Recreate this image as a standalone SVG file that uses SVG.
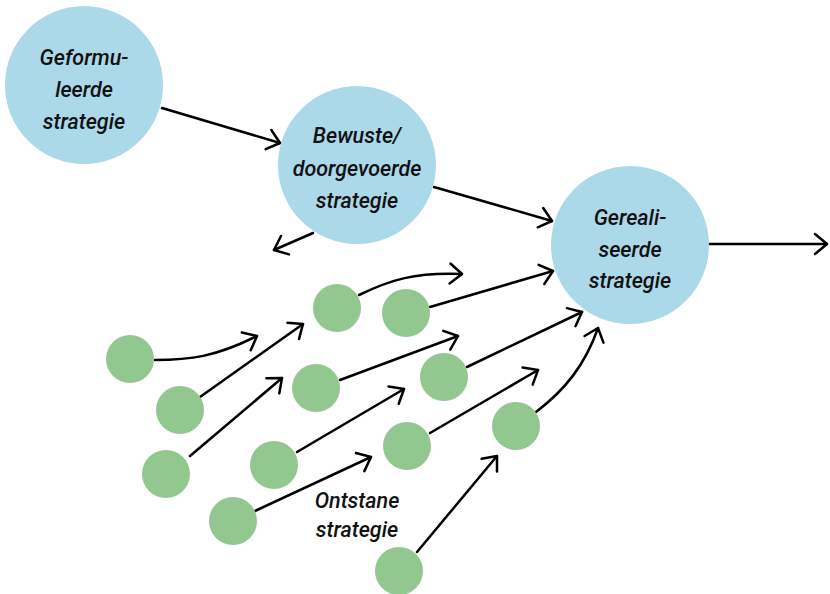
<svg xmlns="http://www.w3.org/2000/svg" width="830" height="594" viewBox="0 0 830 594">
  <style>
    .big { fill: #abd9ea; }
    .small { fill: #92c78f; }
    .lbl { font-family: Roboto, "Open Sans", sans-serif; font-style: italic; font-weight: 500; font-size: 21.5px; fill: #111; text-anchor: middle; }
    .link { fill: none; stroke: #000; stroke-width: 2.5; stroke-linecap: round; marker-end: url(#head); }
  </style>
  <defs>
    <marker id="head" markerUnits="userSpaceOnUse" viewBox="-15 -13 18 26" markerWidth="18" markerHeight="26" refX="0" refY="0" orient="auto">
      <path d="M-12,-10 L0,0 L-12,10" fill="none" stroke="#000" stroke-width="2.5" stroke-linecap="round" stroke-linejoin="round"/>
    </marker>
  </defs>

  <rect width="830" height="594" fill="#fff"/>

  <g id="connectors">
    <!-- main chain -->
    <path class="link" d="M162,108 L280,143"/>
    <path class="link" d="M434,187 L552,221"/>
    <path class="link" d="M313,233 L274,250"/>
    <path class="link" d="M709,244 L827,244"/>
    <!-- emergent strands -->
    <path class="link" d="M155,360 C190,360 215,357 257,336"/>
    <path class="link" d="M200,397 L303,324"/>
    <path class="link" d="M190,456 L282,378"/>
    <path class="link" d="M359,295 C390,280 415,272 462,274"/>
    <path class="link" d="M430,307 L553,271"/>
    <path class="link" d="M340,380 L458,336"/>
    <path class="link" d="M467,367 L582,312"/>
    <path class="link" d="M297,452 L404,389"/>
    <path class="link" d="M430,433 L538,370"/>
    <path class="link" d="M536,412 C565,390 585,365 598,328"/>
    <path class="link" d="M255,511 L371,457"/>
    <path class="link" d="M417,552 L497,456"/>
  </g>

  <g id="geformuleerde">
    <circle class="big" cx="84" cy="85" r="79"/>
    <text class="lbl" x="84" y="65">Geformu-</text>
    <text class="lbl" x="84" y="97">leerde</text>
    <text class="lbl" x="84" y="129">strategie</text>
  </g>

  <g id="bewuste">
    <circle class="big" cx="357" cy="165" r="79"/>
    <text class="lbl" x="357" y="143">Bewuste/</text>
    <text class="lbl" x="357" y="176">doorgevoerde</text>
    <text class="lbl" x="357" y="208">strategie</text>
  </g>

  <g id="gerealiseerde">
    <circle class="big" cx="630" cy="245" r="79"/>
    <text class="lbl" x="630" y="225">Gereali-</text>
    <text class="lbl" x="630" y="257">seerde</text>
    <text class="lbl" x="630" y="288">strategie</text>
  </g>

  <g id="emergent">
    <circle class="small" cx="130" cy="359" r="24"/>
    <circle class="small" cx="180" cy="410" r="24"/>
    <circle class="small" cx="166" cy="474" r="24"/>
    <circle class="small" cx="337" cy="308" r="24"/>
    <circle class="small" cx="406" cy="313" r="24"/>
    <circle class="small" cx="316" cy="388" r="24"/>
    <circle class="small" cx="444" cy="377" r="24"/>
    <circle class="small" cx="274" cy="465" r="24"/>
    <circle class="small" cx="407" cy="446" r="24"/>
    <circle class="small" cx="516" cy="426" r="24"/>
    <circle class="small" cx="233" cy="521" r="24"/>
    <circle class="small" cx="399" cy="571" r="24"/>
  </g>

  <g id="ontstane">
    <text class="lbl" x="357" y="508">Ontstane</text>
    <text class="lbl" x="357" y="537">strategie</text>
  </g>
</svg>
